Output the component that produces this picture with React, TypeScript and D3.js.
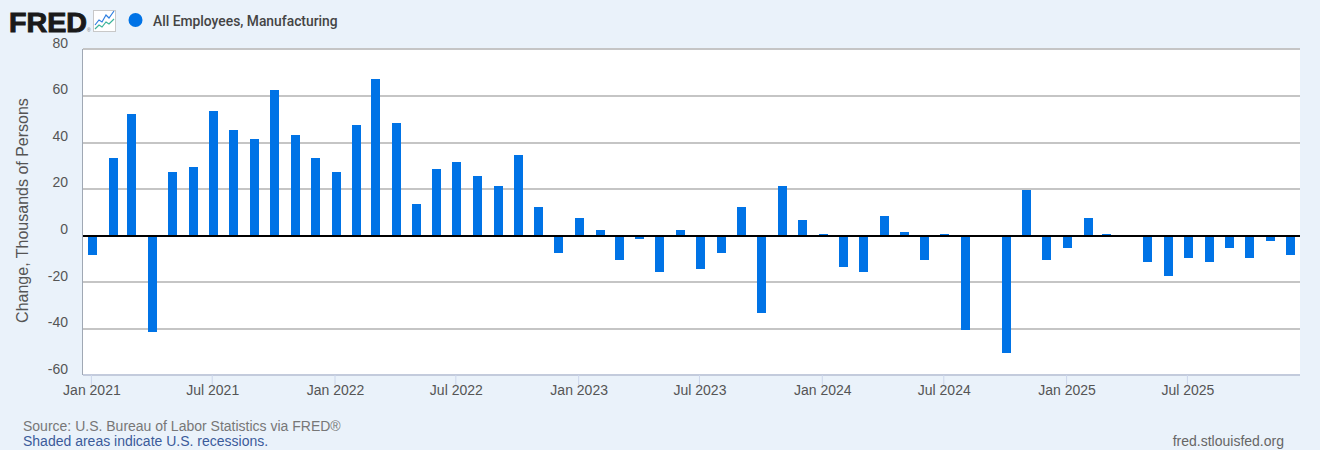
import React from "react";
import * as d3 from "d3";

const startYear = 2021;
const values = [
  -8.3, 33.3, 52.2, -41.3, 27.3, 29.5, 53.5, 45.4, 41.5, 62.5, 43.2, 33.3,
  27.3, 47.5, 67.2, 48.4, 13.6, 28.6, 31.6, 25.6, 21.3, 34.6, 12.3, -7.4,
  7.6, 2.4, -10.4, -1.4, -15.6, 2.4, -14.3, -7.4, 12.3, -33.2, 21.3, 6.7,
  0.7, -13.4, -15.6, 8.5, 1.6, -10.4, 0.7, -40.4, 0, -50.3, 19.5, -10.5,
  -5.3, 7.6, 0.7, 0, -11.3, -17.3, -9.5, -11.3, -5.3, -9.5, -2.3, -8.3,
];
const dates = values.map((_, i) => new Date(Date.UTC(startYear, i, 1)));
const yTicks = [80, 60, 40, 20, 0, -20, -40, -60];
const xTickDates = [0, 6, 12, 18, 24, 30, 36, 42, 48, 54].map((i) => dates[i]);
const seriesName = "All Employees, Manufacturing";
const yTitle = "Change, Thousands of Persons";

const FONT = '"Liberation Sans", Arial, sans-serif';
const left = 83, right = 1300, top = 50, bottom = 375;

export default function App() {
  const x = d3.scaleUtc()
    .domain([dates[0], dates[54]])
    .range([91.4, 1187.4]);
  const y = d3.scaleLinear().domain([-60, 80]).range([375.5, 49.3]);
  const fmt = d3.utcFormat("%b %Y");
  const sparkA = d3.line()([[2, 15], [6, 10], [9, 12], [13, 5], [16, 8], [21, 1]]) ?? "";
  const sparkB = d3.line()([[2, 19], [6, 15], [9, 17], [13, 12], [16, 14], [21, 9]]) ?? "";
  const y0 = Math.round(y(0));
  return (
    <svg width={1320} height={450}
      style={{ position: "fixed", left: 0, top: 0, display: "block", background: "#eaf2fa" }}
      fontFamily={FONT}>
      <rect x={0} y={0} width={1320} height={450} fill="#eaf2fa" />
      <text x={9} y={31.5} fontWeight={700} fontSize={27.5}
        fill="#1a1a1a" stroke="#1a1a1a" strokeWidth={1} textLength={78} lengthAdjust="spacingAndGlyphs">FRED</text>
      <text x={87} y={32} fontSize={5} fill="#777">®</text>
      <g transform="translate(93,10)">
        <rect x={0.5} y={0.5} width={22} height={21} fill="#fff" stroke="#c8c8c8" />
        <path d={sparkA} fill="none" stroke="#2f7fe0" strokeWidth={1.2} />
        <path d={sparkB} fill="none" stroke="#3cb39a" strokeWidth={1.2} />
      </g>
      <circle cx={135.5} cy={20} r={7} fill="#0073e6" />
      <text x={153} y={26} fontSize={13.85} fontWeight={500} fill="#444" fontFamily='Roboto, sans-serif'>{seriesName}</text>

      <rect x={left} y={top} width={right - left} height={bottom - top} fill="#fff" />
      {yTicks.filter((t) => t !== -60).map((t) => (
        <line key={t} x1={left} x2={right} y1={Math.round(y(t))} y2={Math.round(y(t))} stroke="#c5c5c5" strokeWidth={2} />
      ))}
      <line x1={82.5} x2={82.5} y1={top - 1} y2={bottom} stroke="#a0a8b4" strokeWidth={1} />
      <line x1={left} x2={right} y1={bottom} y2={bottom} stroke="#c3cbdc" strokeWidth={2} />
      {xTickDates.map((d) => (
        <g key={+d}>
          <line x1={x(d)} x2={x(d)} y1={bottom} y2={bottom + 10} stroke="#ccd6eb" />
          <text x={x(d) + 0.5} y={395} textAnchor="middle" fontSize={14} fill="#555">{fmt(d)}</text>
        </g>
      ))}
      {values.map((v, i) => {
        const py = Math.round(y(v));
        return (
          <rect key={i} x={Math.round(x(dates[i]) + 1 - 4.5)} width={9}
            y={Math.min(py, y0)} height={Math.abs(py - y0)} fill="#0073e6" />
        );
      })}
      <line x1={left} x2={right} y1={y0} y2={y0} stroke="#000" strokeWidth={2} />
      {yTicks.map((t) => (
        <text key={t} x={68} y={y(t) - 1.7} textAnchor="end" fontSize={14} fill="#555">{t}</text>
      ))}
      <text transform="translate(28,210.5) rotate(-90)" textAnchor="middle" fontSize={16} fill="#555">{yTitle}</text>
      <text x={23} y={431} fontSize={14} fill="#777">Source: U.S. Bureau of Labor Statistics via FRED®</text>
      <text x={23} y={446} fontSize={14} fill="#3b5b9a">Shaded areas indicate U.S. recessions.</text>
      <text x={1284} y={446} textAnchor="end" fontSize={14} fill="#666">fred.stlouisfed.org</text>
    </svg>
  );
}
